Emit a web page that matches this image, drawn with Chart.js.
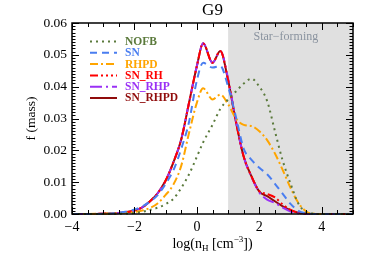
<!DOCTYPE html>
<html>
<head>
<meta charset="utf-8">
<script src="https://cdn.jsdelivr.net/npm/chart.js@4.4.0/dist/chart.umd.min.js"></script>
<style>
  html, body { margin: 0; padding: 0; background: #fff; }
</style>
</head>
<body>
<canvas id="myChart" width="374" height="261"></canvas>
<script>
// log(nH) sample points
var logN = [-4, -3.5, -3, -2.5, -2, -1.75, -1.5, -1.25, -1, -0.75, -0.5, -0.25, 0, 0.2, 0.5, 0.75,
            1, 1.25, 1.5, 1.75, 2, 2.25, 2.5, 2.75, 3, 3.25, 3.5, 3.75, 4, 4.5, 5];

var nofb   = [0, 0, 0, 0.0001, 0.0003, 0.0007, 0.0013, 0.0020, 0.0031, 0.0048, 0.0082, 0.0125, 0.0180, 0.0225, 0.0280, 0.0330,
              0.0360, 0.0385, 0.0410, 0.0425, 0.0400, 0.0355, 0.0260, 0.0167, 0.0095, 0.0033, 0.0006, 0.0001, 0, 0, 0];
var sn     = [0, 0, 0.0001, 0.0004, 0.0014, 0.0024, 0.0039, 0.0060, 0.0095, 0.0138, 0.0205, 0.0290, 0.0420, 0.0475, 0.0460, 0.0465,
              0.0400, 0.0305, 0.0205, 0.0170, 0.0145, 0.0125, 0.0095, 0.0063, 0.0032, 0.0010, 0.0002, 0, 0, 0, 0];
var rhpd   = [0, 0, 0.0001, 0.0002, 0.0006, 0.0011, 0.0019, 0.0034, 0.0060, 0.0093, 0.0152, 0.0255, 0.0350, 0.0395, 0.0360, 0.0375,
              0.0345, 0.0300, 0.0280, 0.0276, 0.0260, 0.0232, 0.0190, 0.0138, 0.0082, 0.0035, 0.0008, 0.0001, 0, 0, 0];
var snRh   = [0, 0, 0.0001, 0.0003, 0.0011, 0.0021, 0.0040, 0.0066, 0.0105, 0.0163, 0.0235, 0.0350, 0.0465, 0.0536, 0.0475, 0.0512,
              0.0420, 0.0290, 0.0180, 0.0118, 0.0072, 0.0063, 0.0052, 0.0030, 0.0013, 0.0004, 0.0001, 0, 0, 0, 0];
var snRhp  = [0, 0, 0.0001, 0.0003, 0.0011, 0.0021, 0.0040, 0.0066, 0.0105, 0.0163, 0.0235, 0.0350, 0.0465, 0.0536, 0.0475, 0.0512,
              0.0425, 0.0292, 0.0180, 0.0116, 0.0068, 0.0045, 0.0035, 0.0020, 0.0008, 0.0002, 0, 0, 0, 0, 0];
var snRhpd = [0, 0, 0.0001, 0.0003, 0.0011, 0.0021, 0.0040, 0.0066, 0.0105, 0.0163, 0.0235, 0.0350, 0.0465, 0.0536, 0.0475, 0.0512,
              0.0420, 0.0290, 0.0180, 0.0118, 0.0070, 0.0056, 0.0040, 0.0024, 0.0012, 0.0004, 0.0001, 0, 0, 0, 0];

var xTicks = [-4, -2, 0, 2, 4];
var yTicks = [0, 0.01, 0.02, 0.03, 0.04, 0.05, 0.06];
var starForming = 1; // log nH threshold

var serif = '"Liberation Serif", "Times New Roman", serif';

function pts(arr) {
    return logN.map(function (x, i) { return { x: x, y: arr[i] }; });
}

function line(label, arr, color, dash) {
    return {
        label: label,
        data: pts(arr),
        borderColor: color,
        borderWidth: 2,
        borderDash: dash,
        pointRadius: 0,
        cubicInterpolationMode: 'monotone',
        clip: 4
    };
}

var dataSource = {
    datasets: [
        line('NOFB', nofb, '#5b7a3c', [2, 4]),
        line('SN', sn, '#4a7ef0', [7, 5]),
        line('RHPD', rhpd, '#ffa500', [8, 3, 2, 3]),
        line('SN_RH', snRh, '#ff0000', [8, 3, 2, 3, 2, 3, 2, 3]),
        line('SN_RHP', snRhp, '#9a30f5', [12, 4, 2, 4]),
        line('SN_RHPD', snRhpd, '#900c0c', [])
    ]
};

var decor = {
    id: 'decor',
    beforeDatasetsDraw: function (chart) {
        var ctx = chart.ctx, a = chart.chartArea, x = chart.scales.x;
        var x0 = x.getPixelForValue(starForming);
        ctx.save();
        ctx.fillStyle = '#e0e0e0';
        ctx.fillRect(x0, a.top, a.right - x0, a.bottom - a.top);
        ctx.fillStyle = '#8a939f';
        ctx.font = '12px ' + serif;
        ctx.textAlign = 'center';
        ctx.textBaseline = 'middle';
        ctx.fillText('Star\u2212forming', x.getPixelForValue(2.85), a.top + 13.5);
        ctx.restore();
    },
    afterDraw: function (chart) {
        var ctx = chart.ctx, a = chart.chartArea, x = chart.scales.x, y = chart.scales.y;
        ctx.save();
        ctx.strokeStyle = '#000';
        ctx.lineWidth = 1;
        ctx.beginPath();
        // y ticks, major 0.01, minor 0.001
        for (var i = 0; i <= 60; i++) {
            var py = Math.round(y.getPixelForValue(i / 1000)) + 0.5;
            var len = (i % 10 === 0) ? 7 : 3.5;
            ctx.moveTo(a.left, py); ctx.lineTo(a.left + len, py);
            ctx.moveTo(a.right, py); ctx.lineTo(a.right - len, py);
        }
        // x ticks, major 2, minor 0.5
        for (var j = 0; j <= 18; j++) {
            var v = -4 + j * 0.5;
            var px = Math.round(x.getPixelForValue(v)) + 0.5;
            var l2 = (j % 4 === 0) ? 7 : 4;
            ctx.moveTo(px, a.bottom); ctx.lineTo(px, a.bottom - l2);
            ctx.moveTo(px, a.top); ctx.lineTo(px, a.top + l2);
        }
        ctx.stroke();
        ctx.lineWidth = 1.5;
        ctx.strokeRect(a.left, a.top, a.right - a.left, a.bottom - a.top);

        // legend
        chart.data.datasets.forEach(function (ds, k) {
            var ly = 41.5 + k * 11.3;
            ctx.strokeStyle = ds.borderColor;
            ctx.lineWidth = 2;
            ctx.setLineDash(ds.borderDash);
            ctx.beginPath();
            ctx.moveTo(90, ly); ctx.lineTo(117, ly);
            ctx.stroke();
            ctx.setLineDash([]);
            ctx.fillStyle = ds.borderColor;
            ctx.font = 'bold 11.5px ' + serif;
            ctx.textAlign = 'left';
            ctx.textBaseline = 'middle';
            ctx.fillText(ds.label, 125, ly + 0.5);
        });

        // title
        ctx.fillStyle = '#000';
        ctx.font = '17px ' + serif;
        ctx.textAlign = 'center';
        ctx.textBaseline = 'middle';
        ctx.fillText('G9', (a.left + a.right) / 2, 11);

        // y title
        ctx.save();
        ctx.translate(31, 118.5);
        ctx.rotate(-Math.PI / 2);
        ctx.font = '13.5px ' + serif;
        ctx.fillText('f (mass)', 0, 0);
        ctx.restore();

        // x title with sub/superscript
        var parts = [
            { t: 'log(n', f: 14, dy: 0 },
            { t: 'H', f: 9, dy: 3 },
            { t: ' [cm', f: 14, dy: 0 },
            { t: '\u22123', f: 9, dy: -6 },
            { t: '])', f: 14, dy: 0 }
        ];
        var w = 0;
        parts.forEach(function (p) { ctx.font = p.f + 'px ' + serif; p.w = ctx.measureText(p.t).width; w += p.w; });
        var cx = (a.left + a.right) / 2 - w / 2;
        ctx.textAlign = 'left';
        ctx.textBaseline = 'alphabetic';
        parts.forEach(function (p) {
            ctx.font = p.f + 'px ' + serif;
            ctx.fillText(p.t, cx, 247.5 + p.dy);
            cx += p.w;
        });
        ctx.restore();
    }
};

function createChart() {
    var ctx = document.getElementById('myChart').getContext('2d');
    var myChart = new Chart(ctx, {
        type: 'line',
        data: dataSource,
        plugins: [decor],
        options: {
            responsive: false,
            animation: false,
            devicePixelRatio: 1,
            layout: { padding: { top: 23, right: 21, left: 0, bottom: 0 } },
            plugins: { legend: { display: false }, tooltip: { enabled: false } },
            scales: {
                x: {
                    type: 'linear',
                    min: -4,
                    max: 5,
                    afterBuildTicks: function (s) { s.ticks = xTicks.map(function (v) { return { value: v }; }); },
                    afterFit: function (s) { s.height = 47; },
                    grid: { display: false, drawTicks: false },
                    border: { display: false },
                    ticks: {
                        autoSkip: false,
                        maxRotation: 0,
                        padding: 5,
                        color: '#000',
                        font: { family: serif, size: 14 },
                        callback: function (v) { return v < 0 ? '\u2212' + Math.abs(v) : String(v); }
                    }
                },
                y: {
                    min: 0,
                    max: 0.06,
                    afterBuildTicks: function (s) { s.ticks = yTicks.map(function (v) { return { value: v }; }); },
                    afterFit: function (s) { s.width = 72; },
                    grid: { display: false, drawTicks: false },
                    border: { display: false },
                    ticks: {
                        padding: 5,
                        color: '#000',
                        font: { family: serif, size: 13.5 },
                        callback: function (v) { return v.toFixed(2); }
                    }
                }
            }
        }
    });
}

createChart();
</script>
</body>
</html>
